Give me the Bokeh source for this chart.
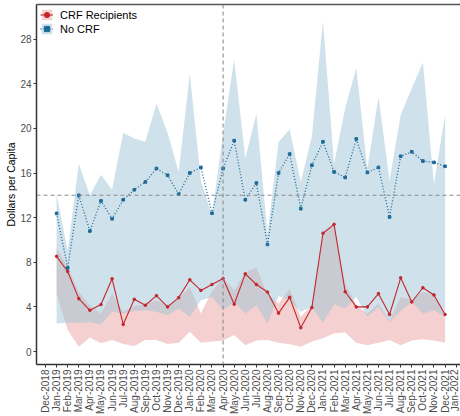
from bokeh.plotting import figure
from bokeh.models import (ColumnDataSource, FixedTicker, Span, LinearAxis,
                          Legend, LegendItem, Range1d)
from bokeh.embed import file_html
from bokeh.resources import INLINE

# Month tick labels along the x axis
month_names = ["Jan", "Feb", "Mar", "Apr", "May", "Jun",
               "Jul", "Aug", "Sep", "Oct", "Nov", "Dec"]
tick_labels = ["Dec-2018"] + [f"{m}-{y}" for y in (2019, 2020, 2021, 2022) for m in month_names]

# Observed months: Jan-2019 .. Dec-2021 (positions 1..36 on the month axis)
month_pos = list(range(1, 37))

# CRF recipients: mean and band
crf_mean = [8.53, 7.17, 4.74, 3.70, 4.21, 6.52, 2.43, 4.68, 4.15, 5.01, 4.00, 4.83,
            6.43, 5.48, 6.01, 6.55, 4.24, 6.96, 6.01, 5.33, 3.44, 4.86, 2.13, 3.94,
            10.60, 11.40, 5.36, 4.00, 4.00, 5.19, 3.32, 6.61, 4.44, 5.72, 5.07, 3.32]
crf_upper = [9.27, 7.56, 5.33, 4.15, 3.41, 5.19, 3.56, 4.06, 4.24, 4.59, 4.15, 4.74,
             5.78, 3.41, 5.40, 6.60, 5.50, 7.10, 7.50, 5.13, 4.30, 5.63, 3.11, 4.15,
             10.67, 11.40, 6.07, 4.15, 3.41, 4.30, 2.75, 4.89, 4.65, 5.33, 5.19, 3.11]
crf_lower = [5.19, 1.93, 0.44, 1.27, 0.74, 1.04, 0.68, 0.50, 1.04, 1.04, 0.68, 0.80,
             1.78, 0.80, 0.90, 0.98, 1.48, 0.56, 0.98, 1.04, 0.80, 0.65, 0.44, 0.90,
             1.19, 1.63, 1.70, 0.80, 0.56, 0.80, 1.04, 0.56, 0.98, 1.10, 0.98, 0.80]

# No CRF: mean and band
nocrf_mean = [12.38, 7.50, 14.00, 10.80, 13.50, 11.90, 13.60, 14.50, 15.20, 16.40, 15.80, 14.10,
              16.00, 16.50, 12.40, 16.40, 18.90, 13.60, 15.10, 9.60, 16.00, 17.70, 12.80, 16.70,
              18.80, 16.10, 15.60, 19.05, 16.05, 16.50, 12.06, 17.50, 17.90, 17.07, 16.95, 16.60]
nocrf_upper = [14.07, 9.0, 16.8, 14.0, 15.85, 14.5, 19.6, 19.1, 18.8, 22.2, 19.6, 16.1,
               24.9, 15.3, 12.2, 19.5, 26.2, 17.3, 21.3, 10.5, 18.8, 19.9, 15.2, 19.3,
               29.6, 16.8, 21.8, 25.4, 16.4, 22.8, 15.3, 21.2, 23.6, 25.9, 15.0, 21.2]
nocrf_lower = [2.52, 2.58, 2.58, 2.64, 2.43, 3.56, 3.41, 3.64, 3.70, 3.56, 3.26, 3.85,
               3.11, 4.59, 4.89, 3.70, 4.44, 3.41, 4.15, 2.52, 4.98, 4.59, 3.56, 4.00,
               2.58, 4.24, 3.85, 4.89, 3.11, 4.00, 2.64, 3.64, 4.44, 3.41, 3.70, 3.11]

src = ColumnDataSource(dict(x=month_pos,
                            crf_mean=crf_mean, crf_upper=crf_upper, crf_lower=crf_lower,
                            nocrf_mean=nocrf_mean, nocrf_upper=nocrf_upper,
                            nocrf_lower=nocrf_lower))

FONT = "Liberation Sans"
RED = "#c1272d"
BLUE = "#1c6a99"

p = figure(width=460, height=416, output_backend="svg", toolbar_location=None,
           x_range=Range1d(-0.81, 37.39), y_range=Range1d(-1.16, 31.1),
           min_border_left=36, min_border_right=0, min_border_top=0, min_border_bottom=0,
           background_fill_color="white", border_fill_color="white")
p.outline_line_color = None
p.grid.visible = False

# Uncertainty bands
crf_band = p.varea(x="x", y1="crf_lower", y2="crf_upper", source=src,
                   fill_color="#e48a8a", fill_alpha=0.4)
nocrf_band = p.varea(x="x", y1="nocrf_lower", y2="nocrf_upper", source=src,
                     fill_color="#9fc4d6", fill_alpha=0.5)

# Reference lines
p.add_layout(Span(location=16, dimension="height", line_color="#8c8c8c",
                  line_dash="4 3", line_width=1.1))
p.add_layout(Span(location=14, dimension="width", line_color="#8c8c8c",
                  line_dash="4 3", line_width=1.1))

# Mean series
crf_line = p.line("x", "crf_mean", source=src, line_color=RED, line_width=1.1)
crf_pts = p.scatter("x", "crf_mean", source=src, size=2.6, marker="circle",
                    fill_color=RED, line_color=RED)
nocrf_line = p.line("x", "nocrf_mean", source=src, line_color=BLUE, line_width=1.3,
                    line_dash="1 2")
nocrf_pts = p.scatter("x", "nocrf_mean", source=src, size=2.6, marker="square",
                      fill_color=BLUE, line_color=BLUE)

# Axes
yax = p.yaxis[0]
yax.ticker = FixedTicker(ticks=[0, 4, 8, 12, 16, 20, 24, 28])
yax.axis_label = "Dollars per Capita"
yax.axis_label_text_font = FONT
yax.axis_label_text_font_size = "10.5px"
yax.axis_label_text_font_style = "normal"
yax.axis_label_text_color = "black"
yax.axis_label_standoff = 0

xax = p.xaxis[0]
xax.ticker = FixedTicker(ticks=list(range(len(tick_labels))))
xax.major_label_overrides = {i: lab for i, lab in enumerate(tick_labels)}
xax.major_label_orientation = 1.5708

for ax in (xax, yax):
    ax.axis_line_color = "#333333"
    ax.axis_line_width = 1.5
    ax.major_tick_line_color = "#333333"
    ax.major_tick_in = 0
    ax.major_tick_out = 3
    ax.minor_tick_line_color = None
    ax.major_label_text_font = FONT
    ax.major_label_text_font_size = "10px"
    ax.major_label_text_color = "#4d4d4d"
    ax.major_label_standoff = 2

# Top border of the panel
top = LinearAxis(ticker=FixedTicker(ticks=[]), major_label_text_font_size="0px",
                 axis_line_color="#555555", axis_line_width=1.5,
                 major_tick_line_color=None, minor_tick_line_color=None)
p.add_layout(top, "above")
p.min_border_top = 4

legend = Legend(items=[
    LegendItem(label="CRF Recipients", renderers=[crf_band, crf_line, crf_pts]),
    LegendItem(label="No CRF", renderers=[nocrf_band, nocrf_line, nocrf_pts]),
], location="top_left")
legend.label_text_font = FONT
legend.label_text_font_size = "11px"
legend.label_text_color = "black"
legend.glyph_width = 13
legend.glyph_height = 13
legend.spacing = 1
legend.padding = 0
legend.margin = 4
legend.label_standoff = 7
legend.border_line_color = None
legend.background_fill_alpha = 0
p.add_layout(legend)

open("out.html", "w").write(file_html(p, INLINE))
